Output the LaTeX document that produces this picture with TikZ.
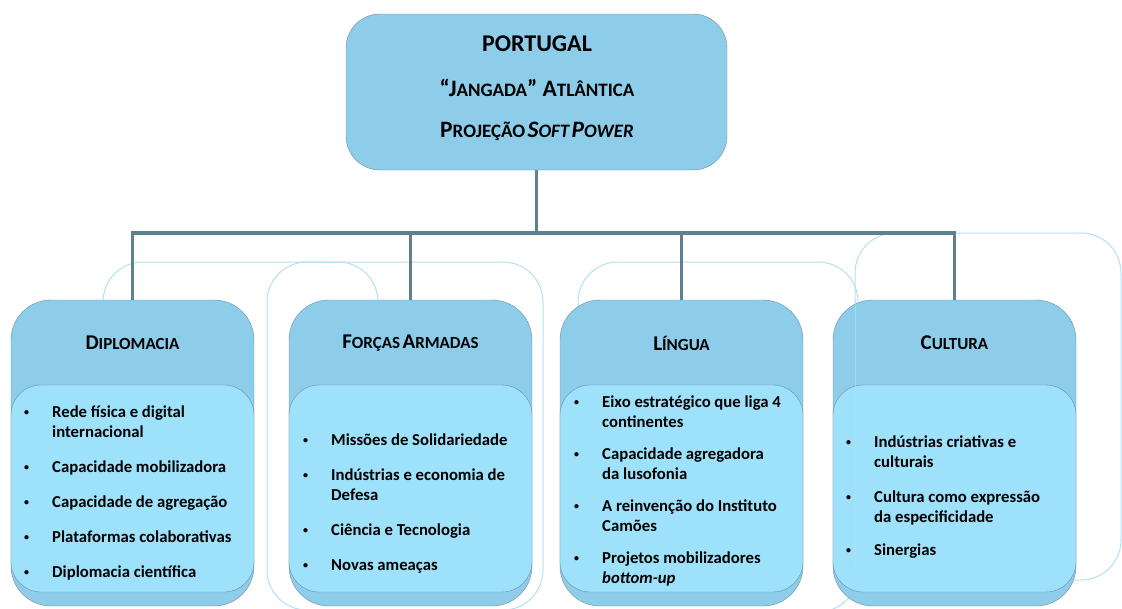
\documentclass[tikz,border=0pt]{standalone}
\usepackage{fontspec}
\setmainfont{Carlito}
\usetikzlibrary{positioning}
\definecolor{boxblue}{RGB}{142,205,234}
\definecolor{listblue}{RGB}{158,225,251}
\definecolor{edgegray}{RGB}{112,142,158}
\definecolor{linkgray}{RGB}{95,128,145}
\definecolor{ghostblue}{RGB}{178,224,244}
% fake small caps: large initial, smaller rest
\newcommand{\fsc}[2]{{\fontsize{21}{24}\selectfont #1}{\fontsize{17}{20}\selectfont #2}}
\newcommand{\fscbig}[2]{{\fontsize{23.5}{26}\selectfont #1}{\fontsize{19}{22}\selectfont #2}}
\newcommand{\dotb}{\raisebox{1.5pt}{\fontsize{10}{10}\selectfont\textbullet}}
\newcommand{\blist}[1]{\fontsize{16.7}{20}\selectfont
  \begin{tabular}[t]{@{}p{28pt}@{}l@{}}#1\end{tabular}}

\begin{document}
\begin{tikzpicture}[x=1pt, y=-1pt, font=\bfseries,
  groupbox/.style={draw=edgegray, fill=boxblue, rounded corners=40pt,
    minimum width=243pt, minimum height=306pt, inner sep=0pt},
  listbox/.style={draw=edgegray, fill=listblue, rounded corners=30pt,
    minimum width=243pt, minimum height=207pt, inner sep=0pt},
  title/.style={inner sep=0pt},
  items/.style={anchor=base west, inner sep=0pt, align=left},
  link/.style={draw=linkgray, line width=3.5pt},
  ghost/.style={draw=ghostblue, line width=1pt, rounded corners=40pt}]
  \useasboundingbox (0,0) rectangle (1122,608);

  % faint outlines behind the groups
  \draw[ghost] (103,330) -- (103,262) -- (378,262) -- (378,330);
  \draw[ghost] (267,262) rectangle (543,610);
  \draw[ghost] (578,330) -- (578,262) -- (858,262) -- (858,612) -- (700,612);
  \draw[ghost] (855,233) rectangle (1121,580);

  % top box
  \node[draw=edgegray, fill=boxblue, rounded corners=34pt,
        minimum width=381pt, minimum height=156pt] (top) at (536.5,92) {};
  \node[title, font=\bfseries\fontsize{24}{27}\selectfont] (t1) at (537,44) {PORTUGAL};
  \node[title] (t2) at (537,88) {\fscbig{“J}{ANGADA}\fscbig{” A}{TLÂNTICA}};
  \node[title] (t3) at (537,131) {\fscbig{P}{ROJEÇÃO} \itshape\fscbig{S}{OFT} \fscbig{P}{OWER}};

  % groups
  \node[groupbox] (dipl) at (132.5,453) {};
  \node[groupbox] (forc) at (410.5,453) {};
  \node[groupbox] (ling) at (681.5,453) {};
  \node[groupbox] (cult) at (954.5,453) {};

  \node[listbox] (dipl-in) at (132.5,488.5) {};
  \node[listbox] (forc-in) at (410.5,488.5) {};
  \node[listbox] (ling-in) at (681.5,488.5) {};
  \node[listbox] (cult-in) at (954.5,488.5) {};

  \node[title] (dipl-t) at (132.5,343) {\fsc{D}{IPLOMACIA}};
  \node[title] (forc-t) at (410.5,343) {\fsc{F}{ORÇAS} \fsc{A}{RMADAS}};
  \node[title] (ling-t) at (681.5,343) {\fsc{L}{ÍNGUA}};
  \node[title] (cult-t) at (954.5,343) {\fsc{C}{ULTURA}};

  % item lists
  \node[items] (dipl-l) at (24,417) {\blist{%
    \dotb & Rede física e digital\\ & internacional\\[15pt]
    \dotb & Capacidade mobilizadora\\[15pt]
    \dotb & Capacidade de agregação\\[15pt]
    \dotb & Plataformas colaborativas\\[15pt]
    \dotb & Diplomacia científica}};
  \node[items] (forc-l) at (303,445) {\blist{%
    \dotb & Missões de Solidariedade\\[15pt]
    \dotb & Indústrias e economia de\\ & Defesa\\[15pt]
    \dotb & Ciência e Tecnologia\\[15pt]
    \dotb & Novas ameaças}};
  \node[items] (ling-l) at (574,407) {\blist{%
    \dotb & Eixo estratégico que liga 4\\ & continentes\\[12pt]
    \dotb & Capacidade agregadora\\ & da lusofonia\\[12pt]
    \dotb & A reinvenção do Instituto\\ & Camões\\[12pt]
    \dotb & Projetos mobilizadores\\ & \textit{bottom-up}}};
  \node[items] (cult-l) at (846,447) {\blist{%
    \dotb & Indústrias criativas e\\ & culturais\\[15pt]
    \dotb & Cultura como expressão\\ & da especificidade\\[13pt]
    \dotb & Sinergias}};

  % faint edge seen through the last group
  \draw[ghostblue, line width=1pt, opacity=0.6] (855,300) -- (855,573);

  % connectors
  \coordinate (bar) at (0,233);
  \draw[link] (top.south) -- (top.south |- bar);
  \draw[link] ([xshift=-1.75pt]dipl.north |- bar) -- ([xshift=1.75pt]cult.north |- bar);
  \foreach \g in {dipl,forc,ling,cult}
    \draw[link] (\g.north |- bar) -- (\g.north);
\end{tikzpicture}
\end{document}
